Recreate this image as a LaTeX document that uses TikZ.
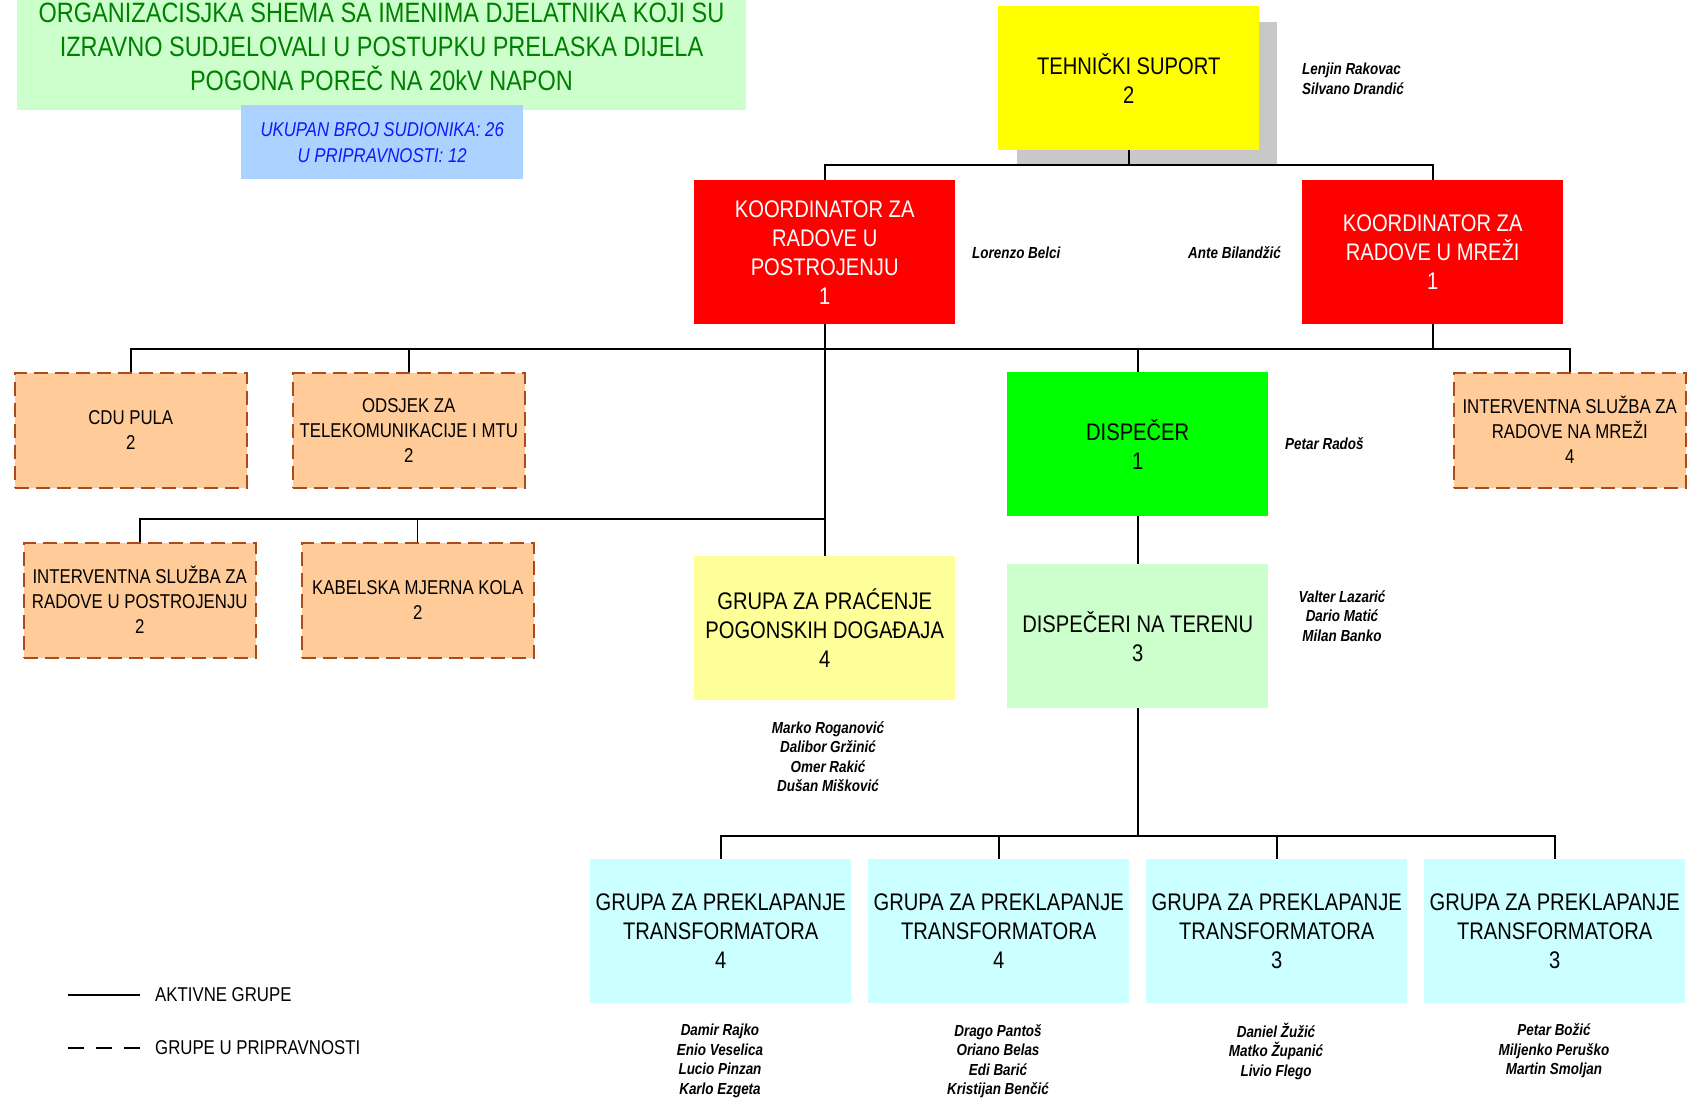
\documentclass[tikz,border=0pt]{standalone}
\usepackage{fontspec}
\setmainfont{Liberation Sans}[FakeStretch=0.84]
\definecolor{titlegreen}{RGB}{204,255,204}
\definecolor{titletext}{RGB}{0,128,0}
\definecolor{infoblue}{RGB}{172,210,255}
\definecolor{infotext}{RGB}{20,20,255}
\definecolor{tsyellow}{RGB}{255,255,0}
\definecolor{shadowgray}{RGB}{200,200,200}
\definecolor{coordred}{RGB}{255,0,0}
\definecolor{dispgreen}{RGB}{0,255,0}
\definecolor{terengreen}{RGB}{204,255,204}
\definecolor{palyellow}{RGB}{255,255,153}
\definecolor{transcyan}{RGB}{204,255,255}
\definecolor{orangefill}{RGB}{255,204,153}
\definecolor{rust}{RGB}{170,75,25}
\begin{document}
\begin{tikzpicture}[x=1pt,y=-1pt,
  conn/.style={line width=2.2pt},
  thinconn/.style={line width=1.2pt},
  mainbox/.style={anchor=north west, inner sep=0pt, align=center,
    minimum width=261pt, minimum height=144pt,
    font=\fontsize{24}{29}\selectfont},
  standby/.style={anchor=north west, inner sep=0pt, align=center,
    minimum width=232pt, minimum height=115pt, fill=orangefill, draw=rust,
    line width=1.5pt, dash pattern=on 14pt off 7pt,
    font=\fontsize{20}{25}\selectfont},
  names/.style={inner sep=0pt, align=center,
    font=\fontsize{16}{19.5}\selectfont\bfseries\itshape},
  legendtext/.style={anchor=west, inner sep=0pt, font=\fontsize{20}{24}\selectfont}
]
\useasboundingbox (0,0) rectangle (1690,1100);
\fill[white] (0,0) rectangle (1690,1100);

% title and info
\fill[titlegreen] (17,0) rectangle (746,110);
\node[inner sep=0pt, align=center, text=titletext,
  font=\fontsize{28}{34}\selectfont] (title) at (381.5,47)
  {ORGANIZACISJKA SHEMA SA IMENIMA DJELATNIKA KOJI SU\\IZRAVNO SUDJELOVALI U POSTUPKU PRELASKA DIJELA\\POGONA POREČ NA 20kV NAPON};
\node[anchor=north west, inner sep=0pt, minimum width=282pt, minimum height=74pt,
  fill=infoblue, text=infotext, align=center,
  font=\fontsize{20}{26}\selectfont\itshape] (info) at (241,105)
  {UKUPAN BROJ SUDIONIKA: 26\\U PRIPRAVNOSTI: 12};

% bus coordinates
\coordinate (b1) at (0,165);
\coordinate (b2) at (0,349);
\coordinate (b3) at (0,519);
\coordinate (b4) at (0,836);

% shadow of technical support
\fill[shadowgray] (1017,22) rectangle (1277,166);

% nodes
\node[mainbox, fill=tsyellow] (ts) at (998,6) {TEHNIČKI SUPORT\\2};
\node[mainbox, fill=coordred, text=white] (kl) at (694,180) {KOORDINATOR ZA\\RADOVE U\\POSTROJENJU\\1};
\node[mainbox, fill=coordred, text=white] (kr) at (1302,180) {KOORDINATOR ZA\\RADOVE U MREŽI\\1};
\node[standby] (cdu) at (14,372) {CDU PULA\\2};
\node[standby] (ods) at (292,372) {ODSJEK ZA\\TELEKOMUNIKACIJE I MTU\\2};
\node[mainbox, fill=dispgreen] (disp) at (1007,372) {DISPEČER\\1};
\node[standby] (isr) at (1453,372) {INTERVENTNA SLUŽBA ZA\\RADOVE NA MREŽI\\4};
\node[standby] (isl) at (23,542) {INTERVENTNA SLUŽBA ZA\\RADOVE U POSTROJENJU\\2};
\node[standby] (kab) at (301,542) {KABELSKA MJERNA KOLA\\2};
\node[mainbox, fill=palyellow] (pr) at (694,556) {GRUPA ZA PRAĆENJE\\POGONSKIH DOGAĐAJA\\4};
\node[mainbox, fill=terengreen] (dt) at (1007,564) {DISPEČERI NA TERENU\\3};
\node[mainbox, fill=transcyan] (g1) at (590,859) {GRUPA ZA PREKLAPANJE\\TRANSFORMATORA\\4};
\node[mainbox, fill=transcyan] (g2) at (868,859) {GRUPA ZA PREKLAPANJE\\TRANSFORMATORA\\4};
\node[mainbox, fill=transcyan] (g3) at (1146,859) {GRUPA ZA PREKLAPANJE\\TRANSFORMATORA\\3};
\node[mainbox, fill=transcyan] (g4) at (1424,859) {GRUPA ZA PREKLAPANJE\\TRANSFORMATORA\\3};

% connectors
\draw[conn] (ts.south) -- (ts.south |- b1);
\draw[conn] (kl.north) -- (kl.north |- b1) -- (kr.north |- b1) -- (kr.north);
\draw[conn] (kl.south) -- (pr.north);
\draw[conn] (cdu.north) -- (cdu.north |- b2) -- (isr.north |- b2) -- (isr.north);
\draw[conn] (ods.north) -- (ods.north |- b2);
\draw[conn] (kr.south) -- (kr.south |- b2);
\draw[conn] (disp.north) -- (disp.north |- b2);
\draw[conn] (isl.north) -- (isl.north |- b3) -- (kl.south |- b3);
\draw[thinconn] (kab.north) -- (kab.north |- b3);
\draw[conn] (disp.south) -- (dt.north);
\draw[conn] (dt.south) -- (dt.south |- b4);
\draw[conn] (g1.north) -- (g1.north |- b4) -- (g4.north |- b4) -- (g4.north);
\draw[conn] (g2.north) -- (g2.north |- b4);
\draw[conn] (g3.north) -- (g3.north |- b4);

% names
\node[names, anchor=west, align=left] (nts) at (1302,79) {Lenjin Rakovac\\Silvano Drandić};
\node[names, anchor=west] (nkl) at (972,253) {Lorenzo Belci};
\node[names, anchor=east] (nkr) at (1281,253) {Ante Bilandžić};
\node[names, anchor=west] (ndisp) at (1285,444) {Petar Radoš};
\node[names] (ndt) at (1342,616) {Valter Lazarić\\Dario Matić\\Milan Banko};
\node[names] (npr) at (828,756.5) {Marko Roganović\\Dalibor Gržinić\\Omer Rakić\\Dušan Mišković};
\node[names] (ng1) at (720,1061) {Damir Rajko\\Enio Veselica\\Lucio Pinzan\\Karlo Ezgeta};
\node[names] (ng2) at (998,1061) {Drago Pantoš\\Oriano Belas\\Edi Barić\\Kristijan Benčić};
\node[names] (ng3) at (1276,1051) {Daniel Žužić\\Matko Županić\\Livio Flego};
\node[names] (ng4) at (1554,1051) {Petar Božić\\Miljenko Peruško\\Martin Smoljan};

% legend
\coordinate (la1) at (68,995);
\coordinate (lb1) at (140,995);
\coordinate (la2) at (68,1048);
\coordinate (lb2) at (140,1048);
\draw[line width=2pt] (la1) -- (lb1);
\draw[line width=2pt, dash pattern=on 16pt off 12pt] (la2) -- (lb2);
\node[legendtext] (lg1) at (155,995) {AKTIVNE GRUPE};
\node[legendtext] (lg2) at (155,1048) {GRUPE U PRIPRAVNOSTI};
\end{tikzpicture}
\end{document}
